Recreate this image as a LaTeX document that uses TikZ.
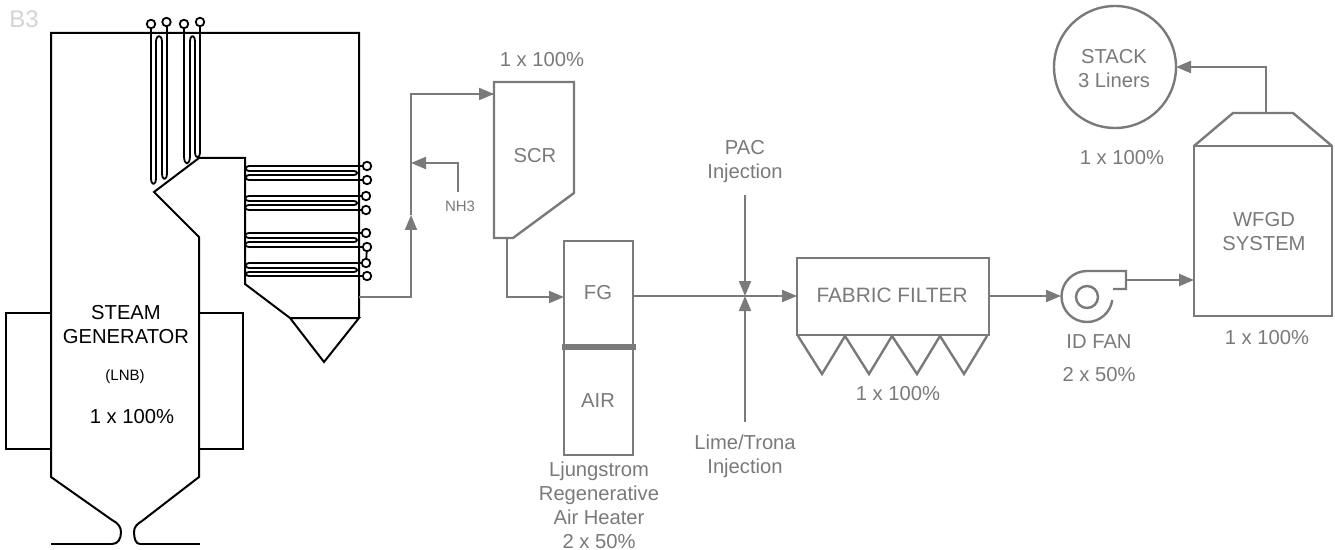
\documentclass[tikz,border=0pt]{standalone}
\usepackage{fontspec}
\setmainfont{Liberation Sans}
\usetikzlibrary{arrows.meta}
\definecolor{flowgrey}{HTML}{7A7A7A}
\definecolor{faintgrey}{HTML}{D4D4D4}
\newcommand{\tube}[1]{\node[port] at (#1) {};}
\tikzset{
  wall/.style={draw=black,line width=2bp,line join=miter},
  tubeline/.style={draw=black,line width=1.8bp,line join=round},
  port/.style={circle,draw=black,fill=white,line width=1.8bp,inner sep=0pt,minimum size=8.5bp},
  equip/.style={draw=flowgrey,line width=2.4bp,line join=miter},
  flow/.style={draw=flowgrey,line width=2bp,line join=miter},
  arrowflow/.style={flow,-{Triangle[length=15bp,width=12bp,fill=flowgrey]}},
  gtext/.style={text=flowgrey,font=\fontsize{20.2bp}{24bp}\selectfont,align=center,inner sep=0pt},
  btext/.style={text=black,font=\fontsize{20.2bp}{24bp}\selectfont,align=center,inner sep=0pt},
}
\begin{document}
\begin{tikzpicture}[x=1bp,y=-1bp]
\useasboundingbox (0,0) rectangle (1335,550);
\fill[white] (0,0) rectangle (1335,550);

\node[text=faintgrey,font=\fontsize{24bp}{26bp}\selectfont,inner sep=0pt] (b3) at (24,19) {B3};

% steam generator
\draw[wall] (51,313) -- (6,313) -- (6,449) -- (51,449);
\draw[wall] (199,313) -- (243,313) -- (243,449) -- (199,449);
\draw[wall] (112,544) -- (51,544);
\draw[wall] (140,544) -- (200,544);
\draw[wall] (112,544) .. controls (118,544) and (121,539) .. (121,532)
  .. controls (121,527) and (118,523) .. (112,520) -- (51,477) -- (51,33) -- (359,33) -- (359,318);
\draw[wall] (140,544) .. controls (136,544) and (134,539) .. (134,532)
  .. controls (134,527) and (137,524) .. (142,521) -- (199,477) -- (199,237) -- (154,192) -- (199,158)
  -- (245,158) -- (245,284) -- (290,318) -- (359,318) -- (324,362) -- (290,318);

% pendant tubes
\draw[tubeline] (151,24) -- (151,178) .. controls (151,186) and (156,186) .. (156,178) -- (156,42)
  .. controls (156,34) and (162,34) .. (162,42) -- (162,173) .. controls (162,181) and (167,181) .. (167,173) -- (167,22);
\draw[tubeline] (184,24) -- (184,156) .. controls (184,166) and (190,166) .. (190,156) -- (190,42)
  .. controls (190,34) and (195,34) .. (195,42) -- (195,152) .. controls (195,159) and (200,159) .. (200,152) -- (200,22);
\tube{151,24}\tube{166.5,22}\tube{184,24}\tube{200,22}

% convection tubes
\draw[tubeline] (367,166) -- (249,166) .. controls (245,166) and (245,171) .. (249,171) -- (354,171)
  .. controls (358,171) and (358,175) .. (354,175) -- (249,175) .. controls (245,175) and (245,180) .. (249,180) -- (367,180);
\draw[tubeline] (366,196) -- (249,196) .. controls (244,196) and (244,201) .. (249,201) -- (354,201)
  .. controls (358,201) and (358,205) .. (354,205) -- (249,205) .. controls (244,205) and (244,210) .. (249,210) -- (366,210);
\draw[tubeline] (366,233) -- (249,233) .. controls (244,233) and (244,238) .. (249,238) -- (354,238)
  .. controls (358,238) and (358,242) .. (354,242) -- (249,242) .. controls (244,242) and (244,247) .. (249,247) -- (367,247);
\draw[tubeline] (366,263) -- (249,263) .. controls (245,263) and (245,268) .. (249,268) -- (354,268)
  .. controls (358,268) and (358,272) .. (354,272) -- (249,272) .. controls (245,272) and (245,276) .. (249,276) -- (367,276);
\draw[tubeline] (367,247) -- (366,263);
\tube{367,166}\tube{367,180}\tube{366,196}\tube{366,210}\tube{366,233}\tube{367,247}\tube{366,263}\tube{367,276}

\node[btext] (steam) at (126,325) {STEAM\\GENERATOR};
\node[btext,font=\fontsize{15bp}{18bp}\selectfont] (lnb) at (125,377) {(LNB)};
\node[btext] (sgcap) at (132,417) {1 x 100\%};

% SCR
\draw[equip] (494,82) -- (574,82) -- (574,193) -- (513,238) -- (494,238) -- cycle;
\node[gtext] (scr) at (535,156) {SCR};
\node[gtext] (scrcap) at (542,60) {1 x 100\%};

% air heater
\node[equip,minimum width=69bp,minimum height=214bp,inner sep=0pt] (aph) at (598.5,348) {};
\draw[draw=flowgrey,line width=6bp] (562,347) -- (636,347);
\node[gtext] (fg) at (598,293) {FG};
\node[gtext] (air) at (598,401) {AIR};
\node[gtext,anchor=north] (aphcap) at (599,462) {Ljungstrom\\Regenerative\\Air Heater\\2 x 50\%};

% injections
\node[gtext] (pac) at (745,162) {PAC\\Injection};
\node[gtext] (lime) at (745,456.5) {Lime/Trona\\Injection};

% fabric filter
\node[equip,minimum width=192bp,minimum height=77bp,inner sep=0pt] (ff) at (893,296.5) {};
\node[gtext,font=\fontsize{20.8bp}{24bp}\selectfont] (fftext) at (892,295) {FABRIC FILTER};
\draw[equip] (798,336) -- (822,374) -- (845,336) -- (869,374) -- (892,336) -- (917,374) -- (940,336) -- (964,374) -- (987,336);
\node[gtext] (ffcap) at (898,394) {1 x 100\%};

% fan
\draw[equip] (1113,289) -- (1126,289) -- (1126,271) -- (1087,271) arc (-90:-352:25.5);
\node[equip,circle,minimum size=22bp,inner sep=0pt] (fanhub) at (1087,297) {};
\node[gtext] (fancap) at (1099,358.5) {ID FAN\\[9bp]2 x 50\%};

% WFGD
\node[equip,minimum width=138bp,minimum height=170bp,inner sep=0pt] (wfgd) at (1263,231) {};
\draw[equip] (1194,146) -- (1233,113) -- (1293,113) -- (1332,146);
\node[gtext] (wfgdtext) at (1264,232) {WFGD\\SYSTEM};
\node[gtext] (wfgdcap) at (1267,338) {1 x 100\%};

% stack
\node[equip,circle,minimum size=122bp,inner sep=0pt] (stack) at (1115,67) {};
\node[gtext] (stacktext) at (1114,69) {STACK\\3 Liners};
\node[gtext] (stackcap) at (1122,158) {1 x 100\%};

\node[gtext,font=\fontsize{15bp}{18bp}\selectfont] (nh3) at (460,206) {NH3};

% connector anchors
\coordinate (sgout) at (359,297);
\coordinate (riser) at (411,297);
\coordinate (riserarrow) at (411,215);
\coordinate (risertop) at (411,94);
\coordinate (scrin) at (494,94);
\coordinate (nh3start) at (458,192);
\coordinate (nh3corner) at (458,163);
\coordinate (nh3end) at (411,163);
\coordinate (scrout) at (507,238);
\coordinate (scrdown) at (507,297);
\coordinate (aphin) at (564,297);
\coordinate (aphout) at (633,296);
\coordinate (ffin) at (797,296);
\coordinate (pacstart) at (745,195);
\coordinate (mix) at (745,296);
\coordinate (limestart) at (745,422);
\coordinate (ffout) at (989,296);
\coordinate (fanin) at (1061,296);
\coordinate (fanout) at (1126,280);
\coordinate (wfgdin) at (1194,280);
\coordinate (wfgdtop) at (1266,113);
\coordinate (stackcorner) at (1266,67);
\coordinate (stackin) at (1176,67);

% connectors
\draw[arrowflow] (sgout) -- (riser) -- (riserarrow);
\draw[flow] (riserarrow) -- (risertop) -- (scrin);
\draw[arrowflow] (risertop) -- (scrin);
\draw[arrowflow] (nh3start) -- (nh3corner) -- (nh3end);
\draw[arrowflow] (scrout) -- (scrdown) -- (aphin);
\draw[arrowflow] (aphout) -- (ffin);
\draw[arrowflow] (pacstart) -- (mix);
\draw[arrowflow] (limestart) -- (mix);
\draw[arrowflow] (ffout) -- (fanin);
\draw[arrowflow,line width=2.4bp] (fanout) -- (wfgdin);
\draw[arrowflow,line width=2.4bp] (wfgdtop) -- (stackcorner) -- (stackin);
\end{tikzpicture}
\end{document}
